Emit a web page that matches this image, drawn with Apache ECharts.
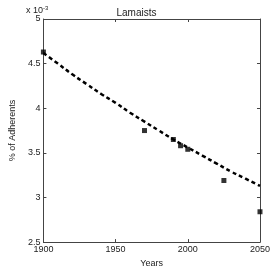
<!DOCTYPE html>
<html><head><meta charset="utf-8">
<script src="https://cdn.jsdelivr.net/npm/echarts@6/dist/echarts.min.js"></script>
<style>html,body{margin:0;padding:0;background:#fff}#c{width:273px;height:273px}</style>
</head><body><div id="c"></div>
<script>
var obsYears = [1900, 1970, 1990, 1995, 2000, 2025, 2050];
var obsValues = [4.63, 3.75, 3.65, 3.58, 3.54, 3.19, 2.84];
var fitYears = [1900, 1910, 1920, 1930, 1940, 1950, 1960, 1970, 1980, 1990, 2000, 2010, 2020, 2030, 2040, 2050];
var fitValues = [4.62, 4.50, 4.38, 4.27, 4.16, 4.06, 3.95, 3.85, 3.75, 3.65, 3.56, 3.47, 3.38, 3.29, 3.21, 3.13];
var xTicks = [1900, 1950, 2000, 2050];
var yTicks = [2.5, 3, 3.5, 4, 4.5, 5];

var chart = echarts.init(document.getElementById('c'));
var font = 'Liberation Sans, Arial, sans-serif';
function pairs(xs, ys){ return xs.map(function(x,i){return [x, ys[i]];}); }
var axisLine = {show:true, lineStyle:{color:'#444', width:1}};
chart.setOption({
  animation:false,
  title:{text:'Lamaists', left:'center', top:3, textStyle:{fontSize:10, fontWeight:'normal', color:'#222', fontFamily:font}},
  grid:{left:25, right:11, top:19, bottom:25},
  xAxis:[{type:'value', min:xTicks[0], max:xTicks[xTicks.length-1], interval:50, name:'Years', nameLocation:'middle', nameGap:15,
    nameTextStyle:{fontSize:9, color:'#222', fontFamily:font},
    axisLine:axisLine, axisTick:{show:true, inside:true, length:3, lineStyle:{color:'#444'}},
    axisLabel:{fontSize:9, color:'#222', margin:3, fontFamily:font, formatter:function(v){return String(v);}}, splitLine:{show:false}},
    {type:'value', position:'top', min:xTicks[0], max:xTicks[xTicks.length-1], interval:50, axisLine:axisLine,
    axisTick:{show:true, inside:true, length:3, lineStyle:{color:'#444'}}, axisLabel:{show:false}, splitLine:{show:false}}],
  yAxis:[{type:'value', min:yTicks[0], max:yTicks[yTicks.length-1], interval:0.5, name:'% of Adherents', nameLocation:'middle', nameGap:17, nameRotate:90,
    nameTextStyle:{fontSize:9, color:'#222', fontFamily:font},
    axisLine:axisLine, axisTick:{show:true, inside:true, length:3, lineStyle:{color:'#444'}},
    axisLabel:{fontSize:9, color:'#222', margin:3, fontFamily:font, formatter:function(v){return String(v);}}, splitLine:{show:false}},
    {type:'value', position:'right', min:yTicks[0], max:yTicks[yTicks.length-1], interval:0.5, axisLine:axisLine,
    axisTick:{show:true, inside:true, length:3, lineStyle:{color:'#444'}}, axisLabel:{show:false}, splitLine:{show:false}}],
  graphic:[{type:'text', left:26, top:5, style:{
    text:'{a|x 10}{b|-3}', rich:{a:{fontSize:9, fontFamily:font, fill:'#222'}, b:{fontSize:6, fontFamily:font, fill:'#222', verticalAlign:'top', padding:[0,0,6,0]}}}}],
  series:[
    {type:'line', data:pairs(fitYears, fitValues), smooth:true, showSymbol:false, symbol:'none',
     lineStyle:{color:'#000', width:2.5, type:[4,3]}, z:2},
    {type:'scatter', data:pairs(obsYears, obsValues), symbol:'rect', symbolSize:5, itemStyle:{color:'#000'}, z:3}
  ]
});
</script></body></html>
